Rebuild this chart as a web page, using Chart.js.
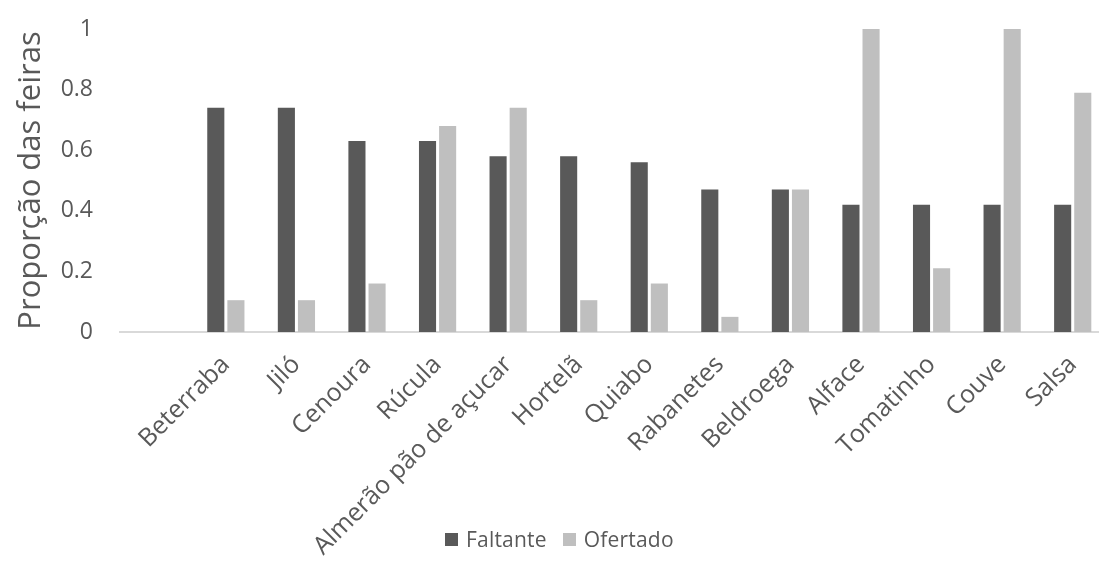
<!DOCTYPE html>
<html>
<head>
<meta charset="utf-8">
<script src="https://cdn.jsdelivr.net/npm/chart.js@4.4.1/dist/chart.umd.min.js"></script>
<style>
  body { margin: 0; overflow: hidden; background: #fff; }
  #wrap { position: relative; width: 1108px; height: 565px; }
  #legend { position: absolute; top: 525px; left: 445px; font-family: "Open Sans", sans-serif; font-size: 21px; letter-spacing: 0.2px; color: #595959; white-space: nowrap; }
  #legend span.box { display: inline-block; width: 13px; height: 13px; margin-right: 8px; vertical-align: 1px; }
  #legend span.item { margin-right: 16px; }
</style>
</head>
<body>
<div id="wrap">
  <canvas id="chart"></canvas>
  <div id="legend"></div>
</div>
<script>
// categories (first slot is empty in the original chart)
const categories = ['', 'Beterraba', 'Jiló', 'Cenoura', 'Rúcula', 'Almerão pão de açucar', 'Hortelã',
  'Quiabo', 'Rabanetes', 'Beldroega', 'Alface', 'Tomatinho', 'Couve', 'Salsa'];

const faltante = [null, 0.74, 0.74, 0.63, 0.63, 0.58, 0.58, 0.56, 0.47, 0.47, 0.42, 0.42, 0.42, 0.42];
const ofertado = [null, 0.105, 0.105, 0.16, 0.68, 0.74, 0.105, 0.16, 0.05, 0.47, 1.0, 0.21, 1.0, 0.79];

const seriesNames = ['Faltante', 'Ofertado'];
const seriesColors = ['#595959', '#bfbfbf'];
const yTicks = [0, 0.2, 0.4, 0.6, 0.8, 1];

const textColor = '#595959';
const fontFamily = '"Open Sans", sans-serif';

const ctx = document.getElementById('chart').getContext('2d');
new Chart(ctx, {
    type: 'bar',
    data: {
        labels: categories,
        datasets: [
            { label: seriesNames[0], data: faltante, backgroundColor: seriesColors[0] },
            { label: seriesNames[1], data: ofertado, backgroundColor: seriesColors[1] }
        ]
    },
    options: {
        responsive: true,
        maintainAspectRatio: false,
        animation: false,
        categoryPercentage: 0.57,
        barPercentage: 0.85,
        layout: { padding: { top: 29, right: 0, left: 0, bottom: 0 } },
        plugins: {
            legend: { display: false },
            tooltip: { enabled: false }
        },
        scales: {
            x: {
                grid: { display: false },
                border: { color: '#d9d9d9', width: 2 },
                ticks: {
                    color: textColor,
                    font: { family: fontFamily, size: 25 },
                    maxRotation: 45,
                    minRotation: 45,
                    autoSkip: false,
                    padding: 10
                },
                afterFit: (scale) => { scale.height = 233; }
            },
            y: {
                min: 0,
                max: 1,
                grid: { display: false },
                border: { display: false },
                afterBuildTicks: (scale) => { scale.ticks = yTicks.map(v => ({ value: v })); },
                ticks: {
                    color: textColor,
                    font: { family: fontFamily, size: 23 },
                    padding: 19,
                    callback: (v) => String(v)
                },
                title: {
                    display: true,
                    text: 'Proporção das feiras',
                    color: textColor,
                    font: { family: fontFamily, size: 31 },
                    padding: { top: 13, bottom: 0 }
                },
                afterFit: (scale) => {
                    scale.width = 120;
                    // tick padding would otherwise push the plot top down
                    scale.paddingTop = 0;
                    scale.paddingBottom = 0;
                }
            }
        }
    }
});

// legend as html so it can sit beside the rotated labels
const legendDiv = document.getElementById('legend');
seriesNames.forEach((name, i) => {
    const item = document.createElement('span');
    item.className = 'item';
    item.innerHTML = '<span class="box" style="background:' + seriesColors[i] + '"></span>' + name;
    legendDiv.appendChild(item);
});
</script>
</body>
</html>
